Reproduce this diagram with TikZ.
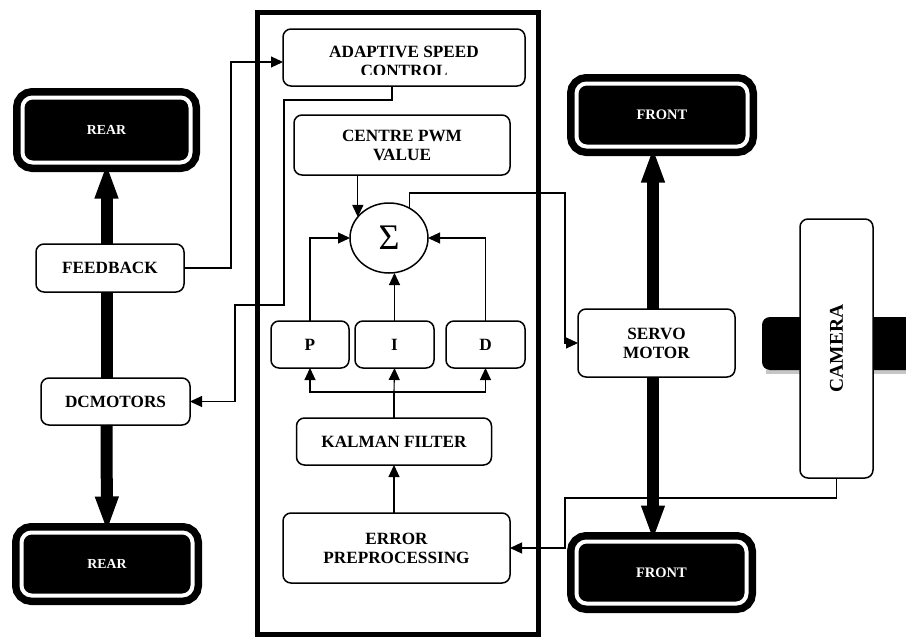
\documentclass[tikz,border=0pt]{standalone}
\usepackage{fontspec}
\usepackage{graphicx}
\setmainfont{Liberation Serif}
\usetikzlibrary{shapes.geometric,arrows.meta,calc}

\begin{document}
\begin{tikzpicture}[x=1pt,y=-1pt,
  blk/.style={draw, line width=1.5pt, rounded corners=8pt, fill=white, align=center,
    inner sep=0pt, outer sep=0pt, font=\bfseries\fontsize{17.2}{19}\selectfont},
  wheel/.style={fill=black, draw=white, line width=4pt, rounded corners=10pt,
    preaction={draw=black, line width=19pt}, text=white, inner sep=0pt, outer sep=0pt,
    font=\bfseries\fontsize{13.8}{16}\selectfont},
  link/.style={line width=1.1pt},
  arr/.style={link, -{Triangle[length=12pt,width=11pt]}},
  axle/.style={line width=12pt},
  axlearr/.style={axle, -{Triangle[length=36pt,width=21pt]}},
]
\useasboundingbox (0,0) rectangle (906,637);

% controller enclosure
\node[draw, line width=5pt, minimum width=281pt, minimum height=622pt,
  inner sep=0pt, outer sep=0pt] (ctrl) at (397.5,323) {};

% wheels
\node[wheel, minimum width=168pt, minimum height=65pt] (rearA) at (106.5,130) {REAR};
\node[wheel, minimum width=171pt, minimum height=63pt] (rearB) at (107,564) {REAR};
\node[wheel, minimum width=171pt, minimum height=63pt,
  font=\bfseries\fontsize{14.5}{16}\selectfont] (frontA) at (662,115) {FRONT};
\node[wheel, minimum width=170pt, minimum height=62pt,
  font=\bfseries\fontsize{14.5}{16}\selectfont] (frontB) at (661.5,572.5) {FRONT};

% camera mount bar and its shadow
\fill[gray!45] (766,370) rectangle (920,374);
\fill[rounded corners=8pt] (762,317) rectangle (925,370);

% blocks
\node[blk, minimum width=148pt, minimum height=48pt] (fb) at (110,268) {FEEDBACK};
\node[blk, minimum width=149pt, minimum height=47pt] (dcm) at (115.5,401.5) {DCMOTORS};
\node[blk, minimum width=242pt, minimum height=57pt] (asc) at (404,57.5) {};
\begin{scope}
  \clip (283,29) rectangle (525,74);
  \node[font=\bfseries\fontsize{17.2}{19}\selectfont, anchor=base, inner sep=0pt] (ascA) at (404,57) {ADAPTIVE SPEED};
  \node[font=\bfseries\fontsize{17.2}{19}\selectfont, anchor=base, inner sep=0pt] (ascB) at (404,76) {CONTROL};
\end{scope}
\node[blk, minimum width=216pt, minimum height=60pt] (cpwm) at (402,145) {CENTRE PWM\\VALUE};
\node[draw, ellipse, line width=1.5pt, minimum width=78pt, minimum height=70pt,
  inner sep=0pt, outer sep=0pt, fill=white] (sum) at (389,238) {\fontsize{36}{36}\selectfont Σ};
\node[blk, minimum width=78pt, minimum height=47pt] (P) at (310,344.5) {P};
\node[blk, minimum width=79pt, minimum height=47pt] (I) at (394.5,344.5) {I};
\node[blk, minimum width=79pt, minimum height=47pt] (D) at (485.5,344.5) {D};
\node[blk, minimum width=195pt, minimum height=47pt] (kal) at (394,441.5) {KALMAN FILTER};
\node[blk, minimum width=227pt, minimum height=70pt] (err) at (396.5,548) {ERROR\\PREPROCESSING};
\node[blk, minimum width=157pt, minimum height=68pt] (servo) at (656.5,343) {SERVO\\MOTOR};
\node[blk, minimum width=73pt, minimum height=259pt] (cam) at (836.5,348.5)
  {\rotatebox{90}{\fontsize{19.5}{19}\selectfont CAMERA}};

% signal connectors
\coordinate (k1) at (392,100);
\coordinate (k2) at (284,100);
\coordinate (k3) at (284,305);
\coordinate (k4) at (235,305);
\draw[arr] (asc.south -| k1) -- (k1) -- (k2) -- (k3) -- (k4) |- (dcm.east);
\draw[arr] (fb.east) -- (231,268) |- ($(asc.west)+(0,4.5)$);
\draw[arr] (cpwm.south -| sum.146) -- (sum.146);
\draw[arr] (sum.55) |- (565,193) |- (servo.west);
\draw[arr] (P.north) |- (sum.west);
\draw[arr] (D.north) |- (sum.east);
\draw[arr] (I.north) -- (I.north |- sum.south);
\draw[link] (kal.north) -- ++(0,-26) coordinate (bus);
\draw[arr] (bus) -| (P.south);
\draw[arr] (bus) -| (D.south);
\draw[arr] (bus) -- (I.south);
\draw[arr] (kal.south |- err.north) -- (kal.south);
\draw[arr] (cam.south) |- (565,498) |- (err.east);

% axles
\coordinate (rx) at (653,0);
\draw[axlearr] (fb.north -| rearA.south) -- (rearA.south);
\draw[axle] (fb.south -| rearA.south) -- (dcm.north -| rearA.south);
\draw[axlearr] (dcm.south -| rearA.south) -- (rearB.north);
\draw[axlearr] (servo.north -| rx) -- (frontA.south -| rx);
\draw[axlearr] (servo.south -| rx) -- (frontB.north -| rx);
\end{tikzpicture}
\end{document}
